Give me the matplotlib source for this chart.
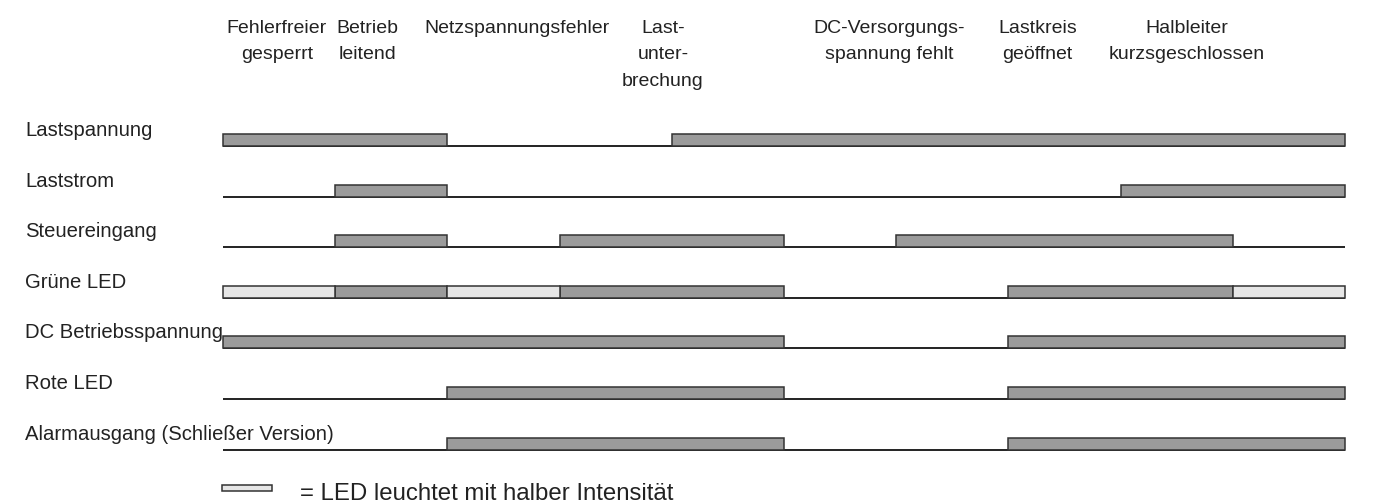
import matplotlib
matplotlib.use("Agg")
import matplotlib.pyplot as plt
from matplotlib.patches import Rectangle

plt.rcParams["font.family"] = ["Liberation Sans", "DejaVu Sans"]

# signal names (one row each) and the time spans (in column units, 0..10) where they are high
signals = ["Lastspannung", "Laststrom", "Steuereingang", "Grüne LED",
           "DC Betriebsspannung", "Rote LED", "Alarmausgang (Schließer Version)"]
full_spans = [
    [(0, 2), (4, 10)],
    [(1, 2), (8, 10)],
    [(1, 2), (3, 5), (6, 9)],
    [(1, 2), (3, 5), (7, 9)],
    [(0, 5), (7, 10)],
    [(2, 5), (7, 10)],
    [(2, 5), (7, 10)],
]
half_spans = [[], [], [], [(0, 1), (2, 3), (9, 10)], [], [], []]

# column headers: (centre in column units, lines)
headers = [
    (0.48, ["Fehlerfreier", "gesperrt"]),
    (1.29, ["Betrieb", "leitend"]),
    (2.62, ["Netzspannungsfehler"]),
    (3.92, ["Last-", "unter-", "brechung"]),
    (5.94, ["DC-Versorgungs-", "spannung fehlt"]),
    (7.26, ["Lastkreis", "geöffnet"]),
    (8.59, ["Halbleiter", "kurzsgeschlossen"]),
]
legend_text = "= LED leuchtet mit halber Intensität"

DARK = "#9b9b9b"
LIGHT = "#e6e6e6"
EDGE = "#333333"
TXT = "#222222"

fig = plt.figure(figsize=(13.75, 5.03), dpi=100)
ax = fig.add_axes([0, 0, 1, 1])
px = 112.2  # pixels per column
ax.set_xlim(-223 / px, (1375 - 223) / px)
ax.set_ylim(503, 0)
ax.axis("off")

row0, dy, bh = 146, 50.6, 12

for i, name in enumerate(signals):
    yb = row0 + dy * i
    ax.plot([0, 10], [yb, yb], color="#111111", lw=1.3, solid_capstyle="butt", zorder=1)
    for a, b in full_spans[i]:
        ax.add_patch(Rectangle((a, yb - bh), b - a, bh, facecolor=DARK,
                               edgecolor=EDGE, lw=1.1, zorder=2))
    for a, b in half_spans[i]:
        ax.add_patch(Rectangle((a, yb - bh), b - a, bh, facecolor=LIGHT,
                               edgecolor=EDGE, lw=1.1, zorder=2))
    ax.text(-198 / px, yb - 15.5, name, fontsize=14.6, color=TXT,
            ha="left", va="center")

line_y = [28, 54.5, 81]
for xc, lines in headers:
    for k, s in enumerate(lines):
        ax.text(xc, line_y[k], s, fontsize=14.0, color=TXT, ha="center", va="center")

# legend for half intensity
ax.add_patch(Rectangle((-0.01, 485), 0.45, 6, facecolor=LIGHT,
                       edgecolor=EDGE, lw=1.1, zorder=2))
ax.text(77 / px, 494, legend_text, fontsize=17.3, color=TXT, ha="left", va="center")

fig.savefig("out.png", dpi=100)
